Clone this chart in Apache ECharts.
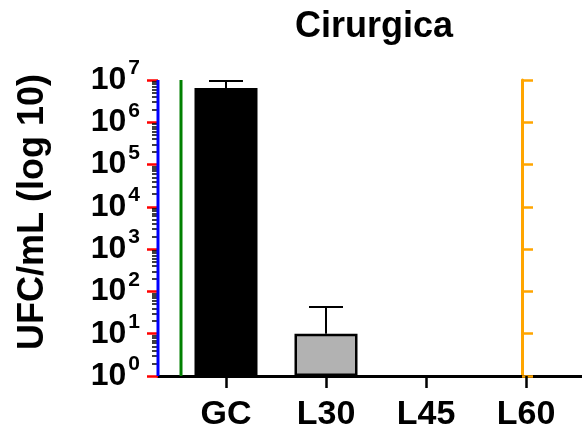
<!DOCTYPE html>
<html>
<head>
<meta charset="utf-8">
<style>html,body{margin:0;padding:0;background:#fff;}#c{width:582px;height:433px;}</style>
<script src="https://cdn.jsdelivr.net/npm/echarts@6/dist/echarts.min.js"></script>
</head>
<body>
<div id="c"></div>
<script>
var categories = ['GC', 'L30', 'L45', 'L60'];
var means = [6.5e6, 10, null, null];
var sds = [3.0e6, 33, null, null];
var barColors = ['#000000', '#b2b2b2', '#b2b2b2', '#b2b2b2'];
var titleText = 'Cirurgica';
var yName = 'UFC/mL (log 10)';

var FONT = '"Liberation Sans", Arial, sans-serif';
var X_MIN = -0.68, X_MAX = 3.56, Y_MIN = 1, Y_MAX = 1e7;
var catPositions = categories.map(function (c, i) { return i; });
var majorTicks = [];
for (var m = 0; m <= 7; m++) majorTicks.push(Math.pow(10, m));
var minorTicks = [];
for (var k = 0; k < 7; k++) {
  for (var d = 2; d <= 9; d++) minorTicks.push(d * Math.pow(10, k));
}

var chart = echarts.init(document.getElementById('c'));
var barData = [];
means.forEach(function (v, i) {
  if (v != null) barData.push({value: [i, v], itemStyle: {color: barColors[i]}});
});
var errData = [];
means.forEach(function (v, i) {
  if (v != null && sds[i] != null) errData.push([i, v, v + sds[i]]);
});

chart.setOption({
  animation: false,
  backgroundColor: '#fff',
  title: {
    text: titleText, left: 369, top: 4, textAlign: 'center',
    textStyle: {fontFamily: FONT, fontWeight: 'bold', fontSize: 36, color: '#000'}
  },
  graphic: [{
    type: 'text', x: 33, y: 212, rotation: Math.PI / 2,
    style: {text: yName, font: 'bold 36px ' + FONT, fill: '#000', textAlign: 'center', textVerticalAlign: 'middle'}
  }],
  grid: {left: 158, right: 0, top: 80, bottom: 57},
  xAxis: {
    type: 'value', min: X_MIN, max: X_MAX,
    axisLine: {show: true, onZero: false, lineStyle: {color: '#000', width: 3}},
    axisTick: {show: true, length: 12, customValues: catPositions, lineStyle: {color: '#000', width: 2.5}},
    axisLabel: {
      margin: 22, customValues: catPositions, color: '#000', fontFamily: FONT, fontWeight: 'bold', fontSize: 34,
      formatter: function (v) { return categories[Math.round(v)]; }
    },
    splitLine: {show: false}
  },
  yAxis: [{
    type: 'log', min: Y_MIN, max: Y_MAX, position: 'left',
    axisLine: {show: false, onZero: false},
    axisTick: {show: false},
    axisLabel: {
      margin: 18, color: '#000',
      formatter: function (v) {
        var e = Math.round(Math.log10(v));
        return '{b|10}{s|' + e + '}';
      },
      rich: {
        b: {fontFamily: FONT, fontWeight: 'bold', fontSize: 32, lineHeight: 44, color: '#000'},
        s: {fontFamily: FONT, fontWeight: 'bold', fontSize: 21, lineHeight: 22, verticalAlign: 'top', padding: [0, 0, 0, 2], color: '#000'}
      }
    },
    splitLine: {show: false}
  }, {
    type: 'log', min: Y_MIN, max: Y_MAX, position: 'left',
    axisLine: {show: false, onZero: false},
    axisTick: {show: true, length: 11, customValues: majorTicks, lineStyle: {color: 'red', width: 2.5}},
    axisLabel: {show: false}, splitLine: {show: false}
  }, {
    type: 'log', min: Y_MIN, max: Y_MAX, position: 'left',
    axisLine: {show: false, onZero: false},
    axisTick: {show: true, length: 6, customValues: minorTicks, lineStyle: {color: '#000', width: 1.5}},
    axisLabel: {show: false}, splitLine: {show: false}
  }, {
    type: 'log', min: Y_MIN, max: Y_MAX, position: 'right', offset: -60,
    axisLine: {show: true, onZero: false, lineStyle: {color: 'orange', width: 3}},
    axisTick: {show: true, length: 11, lineStyle: {color: 'orange', width: 2.5}},
    axisLabel: {show: false}, splitLine: {show: false}
  }],
  series: [{
    type: 'bar', yAxisIndex: 0, data: barData, barWidth: 63,
    itemStyle: {borderColor: '#000', borderWidth: 2.5}
  }, {
    type: 'custom', yAxisIndex: 0, data: errData, z: 1,
    renderItem: function (params, api) {
      var i = api.value(0);
      var p0 = api.coord([i, api.value(1)]);
      var p1 = api.coord([i, api.value(2)]);
      var hw = 17;
      return {
        type: 'group', children: [
          {type: 'line', shape: {x1: p0[0], y1: p0[1], x2: p1[0], y2: p1[1]}, style: {stroke: '#000', lineWidth: 2}},
          {type: 'line', shape: {x1: p1[0] - hw, y1: p1[1], x2: p1[0] + hw, y2: p1[1]}, style: {stroke: '#000', lineWidth: 2}}
        ]
      };
    }
  }, {
    type: 'custom', yAxisIndex: 0, data: [[X_MIN, Y_MIN]], z: 5, clip: false, silent: true,
    renderItem: function (params, api) {
      var a = api.coord([X_MIN, Y_MIN]);
      var b = api.coord([X_MIN, Y_MAX]);
      var c = api.coord([-0.45, Y_MIN]);
      var e = api.coord([-0.45, Y_MAX]);
      return {type: 'group', children: [
        {type: 'line', shape: {x1: a[0], y1: a[1], x2: b[0], y2: b[1]}, style: {stroke: 'blue', lineWidth: 3}},
        {type: 'line', shape: {x1: c[0], y1: c[1], x2: e[0], y2: e[1]}, style: {stroke: 'green', lineWidth: 3}}
      ]};
    }
  }]
});
</script>
</body>
</html>
